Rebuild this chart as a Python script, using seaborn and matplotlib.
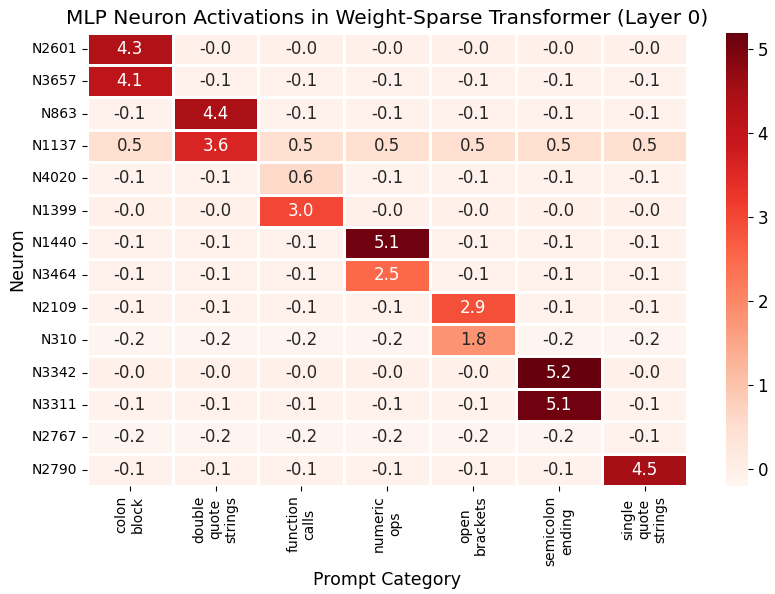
import numpy as np
import pandas as pd
import matplotlib
matplotlib.use("Agg")
import matplotlib.pyplot as plt
import seaborn as sns

neurons = ["N2601", "N3657", "N863", "N1137", "N4020", "N1399", "N1440",
           "N3464", "N2109", "N310", "N3342", "N3311", "N2767", "N2790"]
categories = ["colon\nblock", "double\nquote\nstrings", "function\ncalls",
              "numeric\nops", "open\nbrackets", "semicolon\nending",
              "single\nquote\nstrings"]

# activations per neuron (rows) and prompt category (columns)
activations = [
    [4.3, -0.04, -0.04, -0.04, -0.04, -0.04, -0.04],
    [4.1, -0.1, -0.1, -0.1, -0.1, -0.1, -0.1],
    [-0.1, 4.4, -0.1, -0.1, -0.1, -0.1, -0.1],
    [0.5, 3.6, 0.5, 0.5, 0.5, 0.5, 0.5],
    [-0.1, -0.1, 0.6, -0.1, -0.1, -0.1, -0.1],
    [-0.04, -0.04, 3.0, -0.04, -0.04, -0.04, -0.04],
    [-0.1, -0.1, -0.1, 5.1, -0.1, -0.1, -0.1],
    [-0.1, -0.1, -0.1, 2.5, -0.1, -0.1, -0.1],
    [-0.1, -0.1, -0.1, -0.1, 2.9, -0.1, -0.1],
    [-0.2, -0.2, -0.2, -0.2, 1.8, -0.2, -0.2],
    [-0.04, -0.04, -0.04, -0.04, -0.04, 5.2, -0.04],
    [-0.1, -0.1, -0.1, -0.1, -0.1, 5.1, -0.1],
    [-0.2, -0.2, -0.2, -0.2, -0.2, -0.2, -0.1],
    [-0.1, -0.1, -0.1, -0.1, -0.1, -0.1, 4.5],
]

df = pd.DataFrame(activations, index=neurons, columns=categories)

plt.rcParams['font.family'] = ['DejaVu Sans']

fig = plt.figure(figsize=(7.75, 5.94), dpi=100)
ax = fig.add_axes([0.112, 0.182, 0.775, 0.763])
cax = fig.add_axes([0.937, 0.182, 0.028, 0.763])

sns.heatmap(df, annot=True, fmt=".1f", cmap="Reds", linewidths=1,
            linecolor="white", annot_kws={"size": 12}, ax=ax, cbar_ax=cax)

ax.set_title("MLP Neuron Activations in Weight-Sparse Transformer (Layer 0)", fontsize=14.5)
ax.set_xlabel("Prompt Category", fontsize=12.5)
ax.set_ylabel("Neuron", fontsize=12.5)
ax.tick_params(axis="x", labelsize=10, rotation=90)
ax.tick_params(axis="y", labelsize=10, rotation=0)
cax.tick_params(labelsize=12)
for s in cax.spines.values():
    s.set_visible(False)

plt.savefig("out.png", dpi=100)
